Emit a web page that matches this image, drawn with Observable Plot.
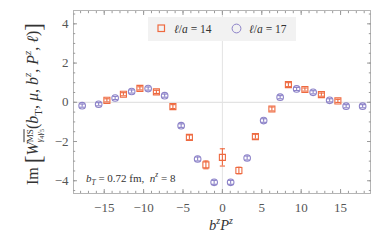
<!DOCTYPE html>
<html><head><meta charset="utf-8">
<script src="https://cdn.jsdelivr.net/npm/d3@7"></script>
<script src="https://cdn.jsdelivr.net/npm/@observablehq/plot@0.6"></script>
<style>
body{margin:0;background:#fff;}
#wrap{position:relative;width:382px;height:243px;font-family:"Liberation Serif",serif;color:#333;overflow:hidden;}
#wrap svg{position:absolute;left:0;top:0;}
.ov{position:absolute;white-space:nowrap;}
sub,sup{font-size:0.68em;line-height:0;}
#legend{left:148px;top:17px;width:148px;height:24px;background:#f2f2f2;font-size:11.5px;}
#ylab{left:33px;top:104px;transform:translate(-50%,-50%) rotate(-90deg);font-size:16px;color:#333;}
.big{font-size:1.45em;vertical-align:-0.12em;}
#xlab{left:221px;top:217px;transform:translateX(-50%);font-size:14.5px;font-style:italic;}
#note{left:86px;top:172px;font-size:11px;}
</style></head><body><div id="wrap"></div>
<script>
// Data
const series = ["ℓ/a = 14", "ℓ/a = 17"];
const colors = ["#ee6a40", "#8c82c8"];
const bzPz14 = [-14.661, -12.566, -10.472, -8.378, -6.283, -4.189, -2.094, 0, 2.094, 4.189, 6.283, 8.378, 10.472, 12.566, 14.661];
const im14   = [0.10, 0.41, 0.71, 0.53, -0.22, -1.79, -3.19, -2.81, -3.48, -1.75, -0.34, 0.90, 0.65, 0.39, 0.07];
const err14  = [0.08, 0.08, 0.08, 0.08, 0.10, 0.12, 0.20, 0.44, 0.17, 0.12, 0.10, 0.10, 0.08, 0.08, 0.08];
const bzPz17 = [-17.802, -15.708, -13.614, -11.519, -9.425, -7.330, -5.236, -3.142, -1.047, 1.047, 3.142, 5.236, 7.330, 9.425, 11.519, 13.614, 15.708, 17.802];
const im17   = [-0.17, -0.10, 0.22, 0.55, 0.70, 0.34, -1.19, -2.89, -4.08, -4.08, -2.84, -0.93, 0.26, 0.68, 0.51, 0.10, -0.20, -0.20];
const err17  = [0.08, 0.08, 0.08, 0.08, 0.08, 0.08, 0.09, 0.10, 0.10, 0.10, 0.10, 0.09, 0.08, 0.08, 0.08, 0.08, 0.08, 0.08];
const xTicks = [-15, -10, -5, 0, 5, 10, 15];
const yTicks = [-4, -2, 0, 2, 4];
const xMinor = d3.range(-18, 19, 1);
const yMinor = d3.range(-4.5, 4.51, 0.5);

const d14 = bzPz14.map((x, i) => ({x, y: im14[i], e: err14[i]}));
const d17 = bzPz17.map((x, i) => ({x, y: im17[i], e: err17[i]}));

const capSym = {draw(ctx, size) { const w = Math.sqrt(size / Math.PI); ctx.moveTo(-w, 0); ctx.lineTo(w, 0); }};

function points(data, color, symbol, r) {
  return [
    Plot.ruleX(data, {x: "x", y1: d => d.y - d.e, y2: d => d.y + d.e, stroke: color, strokeWidth: 1.1}),
    Plot.dot(data, {x: "x", y: d => d.y - d.e, symbol: capSym, r: 2.6, stroke: color, strokeWidth: 1.1}),
    Plot.dot(data, {x: "x", y: d => d.y + d.e, symbol: capSym, r: 2.6, stroke: color, strokeWidth: 1.1}),
    Plot.dot(data, {x: "x", y: "y", symbol, r, stroke: color, fill: "none", strokeWidth: 1.1})
  ];
}

const tickStroke = "#9a9a9a";
const chart = Plot.plot({
  width: 382, height: 243,
  marginLeft: 73, marginRight: 12, marginTop: 10, marginBottom: 50,
  style: {fontFamily: "'Liberation Serif', serif", fontSize: "13px", background: "transparent"},
  x: {domain: [-18.9, 18.8], label: null},
  y: {domain: [-4.65, 4.68], label: null},
  marks: [
    Plot.ruleY([0], {stroke: "#dcdcdc"}),
    Plot.ruleX([0], {stroke: "#e4e4e4"}),
    Plot.frame({stroke: "#b5b5b5"}),
    Plot.axisX(xMinor, {anchor: "bottom", tickSize: -2.2, fill: "none", stroke: tickStroke, label: null}),
    Plot.axisX(xTicks, {anchor: "bottom", tickSize: -4, fill: "none", stroke: tickStroke, label: null}),
    Plot.axisX(xMinor, {anchor: "top", tickSize: -2.2, fill: "none", stroke: tickStroke, label: null}),
    Plot.axisX(xTicks, {anchor: "top", tickSize: -4, fill: "none", stroke: tickStroke, label: null}),
    Plot.axisY(yMinor, {anchor: "left", tickSize: -2.2, fill: "none", stroke: tickStroke, label: null}),
    Plot.axisY(yTicks, {anchor: "left", tickSize: -4, fill: "none", stroke: tickStroke, label: null}),
    Plot.axisY(yMinor, {anchor: "right", tickSize: -2.2, fill: "none", stroke: tickStroke, label: null}),
    Plot.axisY(yTicks, {anchor: "right", tickSize: -4, fill: "none", stroke: tickStroke, label: null}),
    Plot.axisX(xTicks, {anchor: "bottom", tickSize: 0, tickPadding: 9, fill: "#555", fontSize: 13, label: null}),
    Plot.axisY(yTicks, {anchor: "left", tickSize: 0, tickPadding: 5, fill: "#555", fontSize: 13, label: null}),
    ...points(d17, colors[1], "circle", 3.3),
    ...points(d14, colors[0], "square", 3.4)
  ]
});

const wrap = document.getElementById("wrap");
wrap.appendChild(chart);

function legendItem(color, shape, label, left) {
  const sym = shape === "square"
    ? `<rect x="2" y="2" width="6.5" height="6.5" fill="none" stroke="${color}" stroke-width="1.2"/>`
    : `<circle cx="5.5" cy="5.5" r="4.4" fill="none" stroke="${color}" stroke-width="1"/>`;
  const [a, b] = label.split("/");
  return `<span class="ov" style="left:${left}px;top:6px;line-height:0"><svg width="11" height="11">${sym}</svg></span>` +
    `<span class="ov" style="left:${left + 18}px;top:5px;line-height:14px"><i>ℓ</i>/<i>a</i> = ${label.split("= ")[1]}</span>`;
}
const legend = document.createElement("div");
legend.className = "ov"; legend.id = "legend";
legend.innerHTML = legendItem(colors[0], "square", series[0], 8) + legendItem(colors[1], "circle", series[1], 83);
wrap.appendChild(legend);

const ylab = document.createElement("div");
ylab.className = "ov"; ylab.id = "ylab";
ylab.innerHTML = `Im <span class="big">[</span><i>W</i><span style="display:inline-block;vertical-align:-0.45em;font-size:9px;line-height:9px;"><span style="text-decoration:overline">MS</span><br><i>γ</i><sub>4</sub><i>γ</i><sub>5</sub></span>(<i>b</i><sub>T</sub>, <i>μ</i>, <i>b</i><sup><i>z</i></sup>, <i>P</i><sup><i>z</i></sup>, <i>ℓ</i>)<span class="big">]</span>`;
wrap.appendChild(ylab);

const xlab = document.createElement("div");
xlab.className = "ov"; xlab.id = "xlab";
xlab.innerHTML = `b<sup>z</sup>P<sup>z</sup>`;
wrap.appendChild(xlab);

const note = document.createElement("div");
note.className = "ov"; note.id = "note";
note.innerHTML = `<i>b</i><sub><i>T</i></sub> = 0.72 fm,&nbsp; <i>n</i><sup><i>z</i></sup> = 8`;
wrap.appendChild(note);
</script></body></html>
